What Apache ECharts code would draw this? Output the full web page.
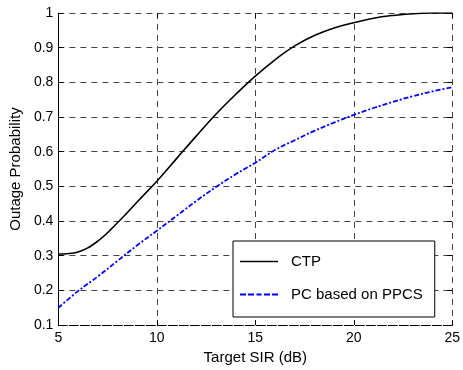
<!DOCTYPE html>
<html lang="en">
<head>
    <meta charset="UTF-8">
    <title>Outage Probability</title>
    <script src="https://cdn.jsdelivr.net/npm/echarts@6/dist/echarts.min.js"></script>
</head>
<style>
    body{
        margin: 0;
        padding: 0;
        background: #fff;
    }
</style>
<body>
<div id="main" style="width: 463px;height:370px;"></div>
<script>
    // Target SIR (dB)
    var sir = [5, 6, 7, 8, 9, 10, 11, 12, 13, 14, 15, 16, 17, 18, 19, 20, 21, 22, 23, 24, 25];
    var ctp = [0.305, 0.311, 0.342, 0.395, 0.455, 0.515, 0.58, 0.645, 0.708, 0.765, 0.818, 0.865, 0.905, 0.935, 0.957, 0.972, 0.985, 0.993, 0.998, 1.0, 1.0];
    var ppcs = [0.15, 0.198, 0.24, 0.285, 0.33, 0.372, 0.415, 0.458, 0.498, 0.535, 0.568, 0.605, 0.633, 0.66, 0.684, 0.706, 0.726, 0.744, 0.76, 0.774, 0.786];

    function pairs(xs, ys) {
        var out = [];
        for (var i = 0; i < xs.length; i++) {
            out.push([xs[i], ys[i]]);
        }
        return out;
    }

    var font = 'Liberation Sans';
    var gridDash = {color: '#444', type: [6, 5], width: 1};
    // legend icons drawn as plain line segments (no markers)
    var solidIcon = 'path://M0,0H38V1.6H0Z';
    var dashIcon = 'path://M0,0H6V2H0Z M8,0H14V2H8Z M16.5,0H21.5V2H16.5Z M24,0H30V2H24Z M32,0H38V2H32Z';

    var chart = echarts.init(document.getElementById('main'));
    var option = {
        animation: false,
        textStyle: {fontFamily: font},
        grid: {left: 57, right: 7, top: 13, bottom: 42},
        legend: {
            orient: 'vertical',
            left: 233,
            top: 241,
            padding: [13, 12, 15, 7],
            itemGap: 18,
            itemWidth: 38,
            itemHeight: 15,
            backgroundColor: '#fff',
            borderColor: '#000',
            borderWidth: 1,
            textStyle: {fontFamily: font, fontSize: 15, color: '#000', padding: [0, 0, 0, 8]},
            data: [
                {name: 'CTP', icon: solidIcon},
                {name: 'PC based on PPCS', icon: dashIcon}
            ]
        },
        xAxis: [{
            type: 'value',
            min: 5,
            max: 25,
            interval: 5,
            name: 'Target SIR (dB)',
            nameLocation: 'middle',
            nameGap: 24,
            nameTextStyle: {fontFamily: font, fontSize: 15, color: '#000'},
            axisLine: {onZero: false, lineStyle: {color: '#000', width: 1, type: [9, 2]}},
            axisTick: {inside: true, length: 5, lineStyle: {color: '#000'}},
            axisLabel: {fontFamily: font, fontSize: 14, color: '#000', margin: 6},
            splitLine: {show: true, lineStyle: gridDash}
        }, {
            type: 'value',
            position: 'top',
            min: 5,
            max: 25,
            interval: 5,
            axisLine: {show: false},
            axisTick: {inside: true, length: 5, lineStyle: {color: '#000'}},
            axisLabel: {show: false},
            splitLine: {show: false}
        }],
        yAxis: [{
            type: 'value',
            min: 0.1,
            max: 1,
            interval: 0.1,
            name: 'Outage Probability',
            nameLocation: 'middle',
            nameGap: 34,
            nameTextStyle: {fontFamily: font, fontSize: 15, color: '#000'},
            axisLine: {show: true, onZero: false, lineStyle: {color: '#000', width: 1}},
            axisTick: {inside: true, length: 5, lineStyle: {color: '#000'}},
            axisLabel: {fontFamily: font, fontSize: 14, color: '#000', margin: 5,
                formatter: function (v) { return Math.round(v * 10) / 10 + ''; }},
            splitLine: {show: true, lineStyle: gridDash}
        }, {
            type: 'value',
            position: 'right',
            min: 0.1,
            max: 1,
            interval: 0.1,
            axisLine: {show: false},
            axisTick: {inside: true, length: 5, lineStyle: {color: '#000'}},
            axisLabel: {show: false},
            splitLine: {show: false}
        }],
        series: [{
            name: 'CTP',
            type: 'line',
            data: pairs(sir, ctp),
            smooth: 0.4,
            showSymbol: false,
            symbol: 'none',
            color: '#000',
            lineStyle: {color: '#000', width: 1.6}
        }, {
            name: 'PC based on PPCS',
            type: 'line',
            data: pairs(sir, ppcs),
            smooth: 0.4,
            showSymbol: false,
            symbol: 'none',
            color: '#0000ff',
            lineStyle: {color: '#0000ff', width: 1.8, type: [5, 2, 2, 2]}
        }]
    };
    chart.setOption(option);
</script>
</body>
</html>
